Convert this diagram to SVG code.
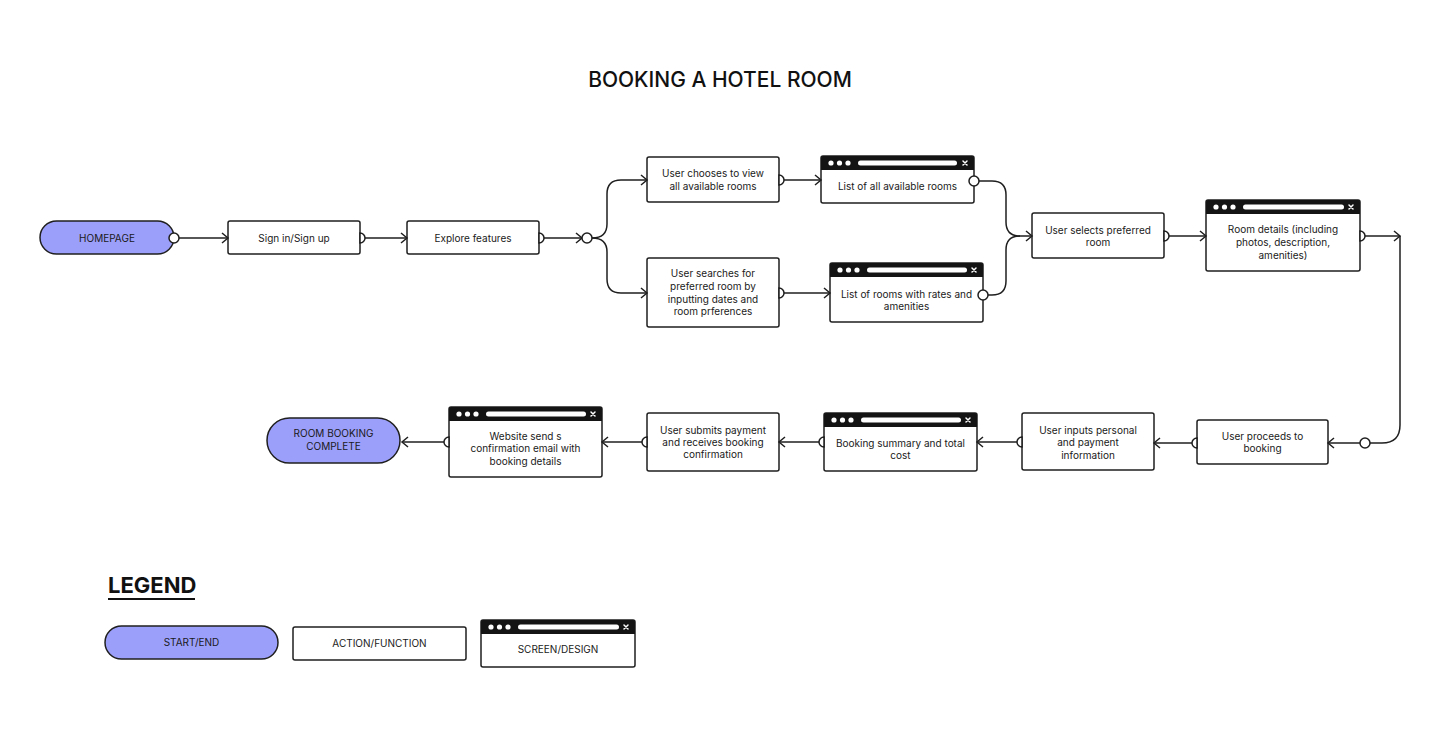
<svg xmlns="http://www.w3.org/2000/svg" width="1440" height="734" viewBox="0 0 1440 734">
<style>
.box{fill:#fff;stroke:#1f1f1f;stroke-width:1.5}
.pill{fill:#9c9ffa;stroke:#1f1f1f;stroke-width:1.5}
.hdr{fill:#141414}
.w{fill:#fff}
.x{stroke:#fff;stroke-width:1.5;stroke-linecap:round}
.t{font-family:Inter,"Liberation Sans",sans-serif;font-size:10px;fill:#1a1a1a;text-anchor:middle}
.ln{fill:none;stroke:#1f1f1f;stroke-width:1.5}
.ca{fill:#fff;stroke:#1f1f1f;stroke-width:1.5}
</style>
<defs>
<marker id="arr" markerUnits="userSpaceOnUse" markerWidth="12" markerHeight="12" viewBox="-10 -6 12 12" refX="0" refY="0" orient="auto">
<path d="M-6,-5 L0,0 L-6,5" fill="none" stroke="#1f1f1f" stroke-width="1.5"/>
</marker>
</defs>
<rect width="1440" height="734" fill="#fff"/>
<text x="720" y="87" style="font-family:Inter,'Liberation Sans',sans-serif;font-size:21px;font-weight:500;fill:#111;text-anchor:middle">BOOKING A HOTEL ROOM</text>

<g id="n-homepage"><rect class="pill" x="40" y="221" width="134" height="33" rx="16.5"/><text class="t" x="107" y="242">HOMEPAGE</text></g>
<g id="n-signin"><rect class="box" x="228" y="221" width="132" height="33" rx="2"/><text class="t" x="294" y="242">Sign in/Sign up</text></g>
<g id="n-explore"><rect class="box" x="407" y="221" width="132" height="33" rx="2"/><text class="t" x="473" y="242">Explore features</text></g>
<g id="n-chooses"><rect class="box" x="647" y="157" width="132" height="45" rx="2"/><text class="t" x="713" y="177">User chooses to view</text><text class="t" x="713" y="190">all available rooms</text></g>
<g id="n-searches"><rect class="box" x="647" y="258" width="132" height="69" rx="2"/><text class="t" x="713" y="277">User searches for</text><text class="t" x="713" y="290">preferred room by</text><text class="t" x="713" y="302.5">inputting dates and</text><text class="t" x="713" y="315">room prferences</text></g>

<g id="s-allrooms"><rect class="box" x="821" y="156" width="153" height="47" rx="2"/><path class="hdr" d="M821,170 V158 Q821,156 823,156 H972 Q974,156 974,158 V170 Z"/><circle class="w" cx="831" cy="163" r="2.6"/><circle class="w" cx="839.5" cy="163" r="2.6"/><circle class="w" cx="848" cy="163" r="2.6"/><rect class="w" x="858" y="160.5" width="99" height="5" rx="2.5"/><path class="x" d="M963,161 L967,165 M967,161 L963,165"/><text class="t" x="897.5" y="190">List of all available rooms</text></g>
<g id="s-rates"><rect class="box" x="830" y="263" width="153" height="59" rx="2"/><path class="hdr" d="M830,277 V265 Q830,263 832,263 H981 Q983,263 983,265 V277 Z"/><circle class="w" cx="840" cy="270" r="2.6"/><circle class="w" cx="848.5" cy="270" r="2.6"/><circle class="w" cx="857" cy="270" r="2.6"/><rect class="w" x="867" y="267.5" width="100" height="5" rx="2.5"/><path class="x" d="M972,268 L976,272 M976,268 L972,272"/><text class="t" x="906.5" y="297.5">List of rooms with rates and</text><text class="t" x="906.5" y="310">amenities</text></g>

<g id="n-selects"><rect class="box" x="1032" y="213" width="132" height="45" rx="2"/><text class="t" x="1098" y="234">User selects preferred</text><text class="t" x="1098" y="246">room</text></g>
<g id="s-details"><rect class="box" x="1206" y="200" width="154" height="71" rx="2"/><path class="hdr" d="M1206,214 V202 Q1206,200 1208,200 H1358 Q1360,200 1360,202 V214 Z"/><circle class="w" cx="1216" cy="207" r="2.6"/><circle class="w" cx="1224.5" cy="207" r="2.6"/><circle class="w" cx="1233" cy="207" r="2.6"/><rect class="w" x="1243" y="204.5" width="101" height="5" rx="2.5"/><path class="x" d="M1349,205 L1353,209 M1353,205 L1349,209"/><text class="t" x="1283" y="233">Room details (including</text><text class="t" x="1283" y="246">photos, description,</text><text class="t" x="1283" y="259">amenities)</text></g>

<g id="n-proceeds"><rect class="box" x="1197" y="420" width="131" height="44" rx="2"/><text class="t" x="1262.5" y="440">User proceeds to</text><text class="t" x="1262.5" y="452">booking</text></g>
<g id="n-inputs"><rect class="box" x="1022" y="413" width="132" height="57" rx="2"/><text class="t" x="1088" y="434">User inputs personal</text><text class="t" x="1088" y="446">and payment</text><text class="t" x="1088" y="458.5">information</text></g>
<g id="s-summary"><rect class="box" x="824" y="413" width="153" height="58" rx="2"/><path class="hdr" d="M824,427 V415 Q824,413 826,413 H975 Q977,413 977,415 V427 Z"/><circle class="w" cx="834" cy="420" r="2.6"/><circle class="w" cx="842.5" cy="420" r="2.6"/><circle class="w" cx="851" cy="420" r="2.6"/><rect class="w" x="861" y="417.5" width="100" height="5" rx="2.5"/><path class="x" d="M966,418 L970,422 M970,418 L966,422"/><text class="t" x="900.5" y="447">Booking summary and total</text><text class="t" x="900.5" y="459">cost</text></g>
<g id="n-submits"><rect class="box" x="647" y="413" width="132" height="58" rx="2"/><text class="t" x="713" y="434">User submits payment</text><text class="t" x="713" y="446">and receives booking</text><text class="t" x="713" y="458">confirmation</text></g>
<g id="s-email"><rect class="box" x="449" y="407" width="153" height="70" rx="2"/><path class="hdr" d="M449,421 V409 Q449,407 451,407 H600 Q602,407 602,409 V421 Z"/><circle class="w" cx="459" cy="414" r="2.6"/><circle class="w" cx="467.5" cy="414" r="2.6"/><circle class="w" cx="476" cy="414" r="2.6"/><rect class="w" x="486" y="411.5" width="100" height="5" rx="2.5"/><path class="x" d="M591,412 L595,416 M595,412 L591,416"/><text class="t" x="525.5" y="439.5">Website send s</text><text class="t" x="525.5" y="452">confirmation email with</text><text class="t" x="525.5" y="464.5">booking details</text></g>
<g id="n-complete"><rect class="pill" x="267" y="418" width="133" height="45" rx="22.5"/><text class="t" x="333.5" y="437">ROOM BOOKING</text><text class="t" x="333.5" y="449.5">COMPLETE</text></g>

<g id="connectors">
<line class="ln" x1="179" y1="238" x2="228" y2="238" marker-end="url(#arr)"/>
<circle class="ca" cx="174" cy="238" r="5"/>
<line class="ln" x1="365" y1="238" x2="407" y2="238" marker-end="url(#arr)"/>
<path class="ca" d="M360,233 A5,5 0 0 1 360,243 Z"/>
<line class="ln" x1="544" y1="238" x2="582" y2="238" marker-end="url(#arr)"/>
<path class="ca" d="M539,233 A5,5 0 0 1 539,243 Z"/>
<circle class="ca" cx="587" cy="238" r="5"/>
<path class="ln" d="M592,238 Q607,238 607,224 V194 Q607,180 621,180 H647" marker-end="url(#arr)"/>
<path class="ln" d="M592,238 Q607,238 607,252 V279 Q607,293 621,293 H647" marker-end="url(#arr)"/>
<line class="ln" x1="784" y1="180" x2="821" y2="180" marker-end="url(#arr)"/>
<path class="ca" d="M779,175 A5,5 0 0 1 779,185 Z"/>
<line class="ln" x1="784" y1="293" x2="830" y2="293" marker-end="url(#arr)"/>
<path class="ca" d="M779,288 A5,5 0 0 1 779,298 Z"/>
<path class="ln" d="M979,181 H992 Q1006,181 1006,195 V222 Q1006,236 1020,236 H1032" marker-end="url(#arr)"/>
<path class="ln" d="M988,295 H992 Q1006,295 1006,281 V250 Q1006,236 1020,236"/>
<circle class="ca" cx="974" cy="181" r="5"/>
<circle class="ca" cx="983" cy="295" r="5"/>
<line class="ln" x1="1169" y1="236" x2="1206" y2="236" marker-end="url(#arr)"/>
<path class="ca" d="M1164,231 A5,5 0 0 1 1164,241 Z"/>
<line class="ln" x1="1365" y1="236" x2="1400" y2="236" marker-end="url(#arr)"/>
<path class="ca" d="M1360,231 A5,5 0 0 1 1360,241 Z"/>
<path class="ln" d="M1400,236 V425 Q1400,443 1382,443 H1370"/>
<circle class="ca" cx="1365" cy="443" r="5"/>
<line class="ln" x1="1360" y1="443" x2="1328" y2="443" marker-end="url(#arr)"/>
<line class="ln" x1="1192" y1="443" x2="1154" y2="443" marker-end="url(#arr)"/>
<path class="ca" d="M1197,438 A5,5 0 0 0 1197,448 Z"/>
<line class="ln" x1="1017" y1="442" x2="977" y2="442" marker-end="url(#arr)"/>
<path class="ca" d="M1022,437 A5,5 0 0 0 1022,447 Z"/>
<line class="ln" x1="819" y1="442" x2="779" y2="442" marker-end="url(#arr)"/>
<path class="ca" d="M824,437 A5,5 0 0 0 824,447 Z"/>
<line class="ln" x1="642" y1="442" x2="602" y2="442" marker-end="url(#arr)"/>
<path class="ca" d="M647,437 A5,5 0 0 0 647,447 Z"/>
<line class="ln" x1="444" y1="442" x2="402" y2="442" marker-end="url(#arr)"/>
<path class="ca" d="M449,437 A5,5 0 0 0 449,447 Z"/>
</g>

<g id="legend">
<text x="108" y="593" style="font-family:Inter,'Liberation Sans',sans-serif;font-size:22px;font-weight:700;fill:#111">LEGEND</text>
<line x1="108" y1="599" x2="195" y2="599" stroke="#111" stroke-width="2"/>
<g id="l-start"><rect class="pill" x="105" y="626" width="173" height="33" rx="16.5"/><text class="t" x="191.5" y="646">START/END</text></g>
<g id="l-action"><rect class="box" x="293" y="627" width="173" height="33" rx="2"/><text class="t" x="379.5" y="647">ACTION/FUNCTION</text></g>
<g id="l-screen"><rect class="box" x="481" y="620" width="154" height="47" rx="2"/><path class="hdr" d="M481,634 V622 Q481,620 483,620 H633 Q635,620 635,622 V634 Z"/><circle class="w" cx="491" cy="627" r="2.6"/><circle class="w" cx="499.5" cy="627" r="2.6"/><circle class="w" cx="508" cy="627" r="2.6"/><rect class="w" x="518" y="624.5" width="101" height="5" rx="2.5"/><path class="x" d="M624,625 L628,629 M628,625 L624,629"/><text class="t" x="558" y="653">SCREEN/DESIGN</text></g>
</g>
</svg>
